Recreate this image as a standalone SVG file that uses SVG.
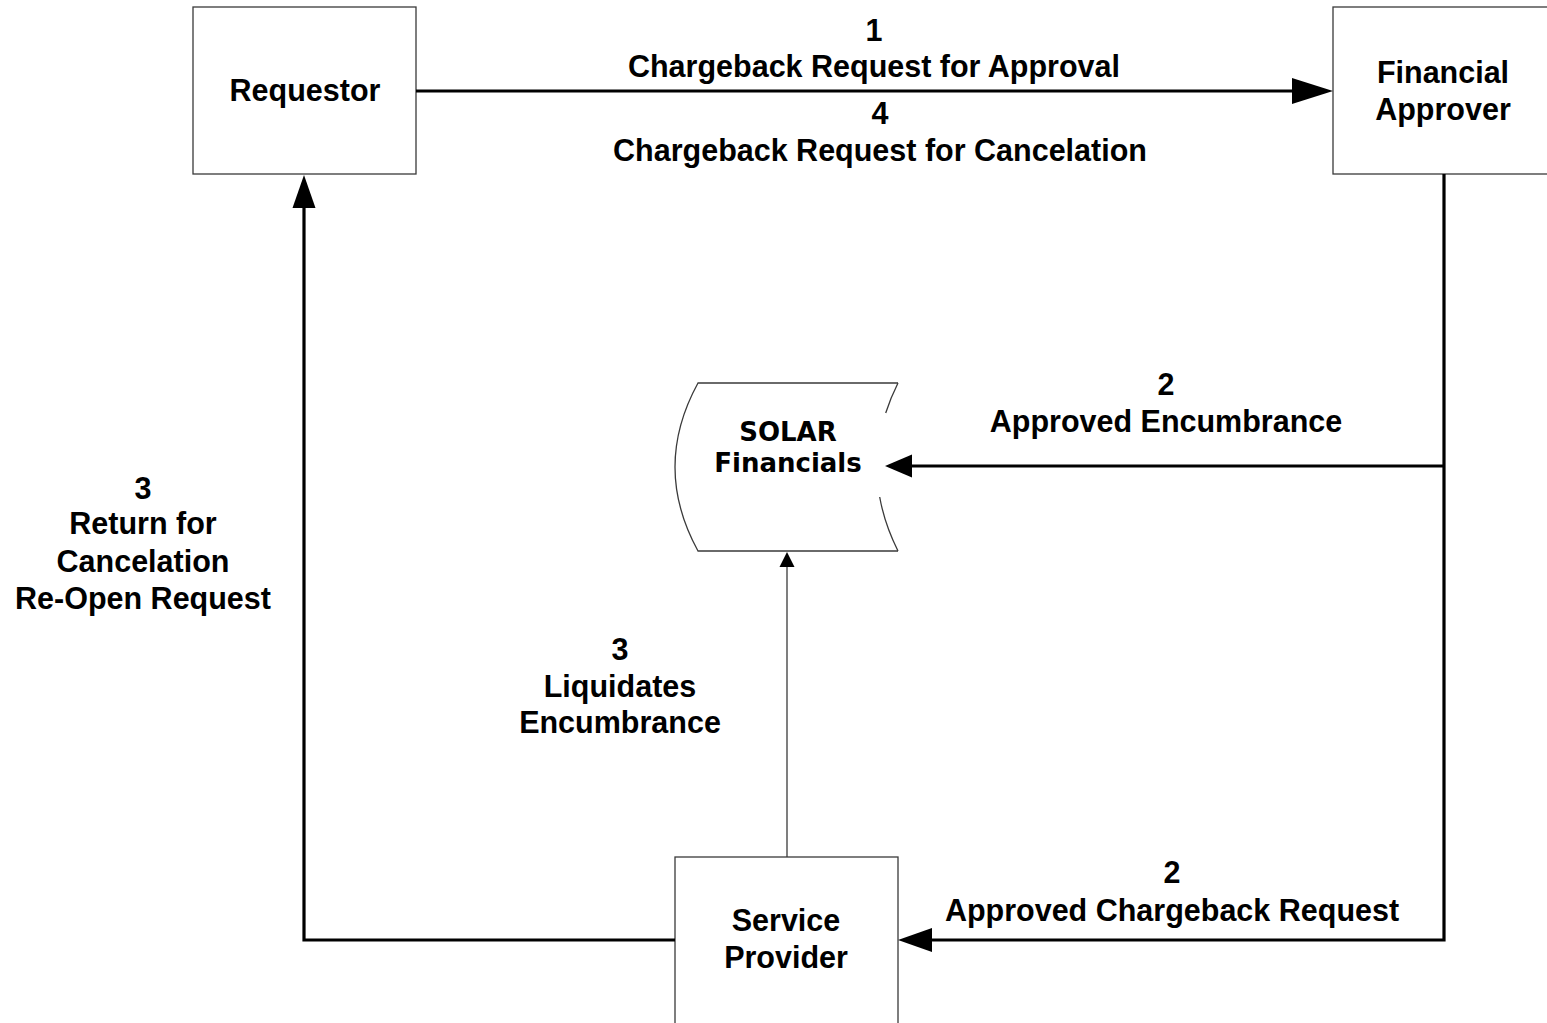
<svg xmlns="http://www.w3.org/2000/svg" width="1547" height="1023" viewBox="0 0 1547 1023">
<style>
.box{fill:#fff;stroke:#3a3a3a;stroke-width:1.3}
.fillonly{fill:#fff;stroke:none}
.t{font-family:"Liberation Sans",Arial,sans-serif;font-weight:bold;font-size:30.5px;fill:#000;text-anchor:middle}
.ts{font-family:"DejaVu Sans",Verdana,sans-serif;font-weight:bold;font-size:26px;fill:#000;text-anchor:middle}
.thick{fill:none;stroke:#000;stroke-width:3.2}
.thin{fill:none;stroke:#3a3a3a;stroke-width:1.3}
.head{fill:#000;stroke:none}
</style>
<rect width="1547" height="1023" fill="#fff"/>
<g id="requestor">
<rect class="box" x="193" y="7" width="223" height="167"/>
<text class="t" x="305" y="101">Requestor</text>
</g>
<g id="financial-approver">
<rect class="box" x="1333" y="7" width="250" height="167"/>
<text class="t" x="1443" y="83">Financial</text>
<text class="t" x="1443" y="120">Approver</text>
</g>
<g id="solar-financials">
<path class="fillonly" d="M898,383 L698,383 Q652,467 698,551 L898,551 Q856,467 898,383 Z"/>
<path class="thin" d="M898,383 L698,383 Q652,467 698,551 L898,551"/>
<path class="thin" d="M898,383 Q890.5,398 885.7,413 M879.7,497 Q884.5,524 898,551"/>
<text class="ts" x="788" y="441">SOLAR</text>
<text class="ts" x="788" y="472">Financials</text>
</g>
<g id="service-provider">
<rect class="box" x="675" y="857" width="223" height="190"/>
<text class="t" x="786" y="931">Service</text>
<text class="t" x="786" y="968">Provider</text>
</g>
<g id="connectors">
<line class="thick" x1="416" y1="91" x2="1294" y2="91"/>
<polygon class="head" points="1333,91 1292,78 1292,104"/>
<polyline class="thick" points="1444,174 1444,940 931,940"/>
<polygon class="head" points="898,940 932,928 932,952"/>
<line class="thick" x1="1444" y1="466" x2="911" y2="466"/>
<polygon class="head" points="885,466 912,454.5 912,477.5"/>
<polyline class="thick" points="675,940 304,940 304,207"/>
<polygon class="head" points="304,175 292.5,208 315.5,208"/>
<line class="thin" x1="787" y1="857" x2="787" y2="566"/>
<polygon class="head" points="787,552 779.5,567 794.5,567"/>
</g>
<g id="labels">
<text class="t" x="874" y="41">1</text>
<text class="t" x="874" y="77">Chargeback Request for Approval</text>
<text class="t" x="880" y="124">4</text>
<text class="t" x="880" y="161">Chargeback Request for Cancelation</text>
<text class="t" x="1166" y="395">2</text>
<text class="t" x="1166" y="432">Approved Encumbrance</text>
<text class="t" x="143" y="499">3</text>
<text class="t" x="143" y="534">Return for</text>
<text class="t" x="143" y="572">Cancelation</text>
<text class="t" x="143" y="609">Re-Open Request</text>
<text class="t" x="620" y="660">3</text>
<text class="t" x="620" y="697">Liquidates</text>
<text class="t" x="620" y="733">Encumbrance</text>
<text class="t" x="1172" y="883">2</text>
<text class="t" x="1172" y="921">Approved Chargeback Request</text>
</g>
</svg>
